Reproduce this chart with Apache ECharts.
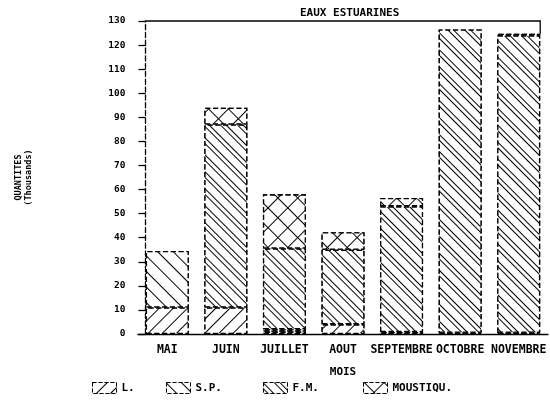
<!DOCTYPE html>
<html><head><meta charset="utf-8">
<script src="https://cdn.jsdelivr.net/npm/echarts@6/dist/echarts.min.js"></script>
<style>html,body{margin:0;padding:0;background:#fff}#c{width:550px;height:412px}</style>
</head><body><div id="c"></div>
<script>
const months = ['MAI','JUIN','JUILLET','AOUT','SEPTEMBRE','OCTOBRE','NOVEMBRE'];
const seriesNames = ['L.','S.P.','F.M.','MOUSTIQU.'];
const valL  = [11, 11, 1, 4, 0.8, 0.5, 0.5];
const valSP = [23.5, 0, 1, 0, 0, 0, 0];
const valFM = [0, 76, 33.5, 31, 52.2, 126, 123.5];
const valMO = [0, 7, 22.5, 7.3, 3.5, 0, 0.7];
const yTicks = [0,10,20,30,40,50,60,70,80,90,100,110,120,130];

const FONT = 'DejaVu Sans Mono';
const decals = [
  {symbol:'rect', symbolSize:1, dashArrayX:[[1,0]], dashArrayY:[1,9], rotation:-Math.PI/4, color:'#000', backgroundColor:'#fff'},
  {symbol:'rect', symbolSize:1, dashArrayX:[[1,0]], dashArrayY:[1,10], rotation:Math.PI/4, color:'#000', backgroundColor:'#fff'},
  {symbol:'rect', symbolSize:1, dashArrayX:[[1,0]], dashArrayY:[1,2.5,1,6.5], rotation:Math.PI/4, color:'#000', backgroundColor:'#fff'},
  {symbol:'rect', symbolSize:1, dashArrayX:[[14,0],[1,13],[1,13],[1,13],[1,13],[1,13],[1,13],[1,13],[1,13],[1,13],[1,13],[1,13],[1,13],[1,13]], dashArrayY:[1,0], rotation:Math.PI/4, color:'#000', backgroundColor:'#fff'}
];
const allVals = [valL, valSP, valFM, valMO];
const legendLefts = [87, 161, 258, 358];

const chart = echarts.init(document.getElementById('c'), null, {renderer:'canvas'});
const option = {
  animation:false,
  backgroundColor:'#fff',
  title:{text:'EAUX ESTUARINES', left:295, top:3, textStyle:{fontFamily:FONT, fontWeight:'bold', fontSize:11, color:'#000'}},
  legend: seriesNames.map((n,i)=>({data:[{name:n, icon:'rect'}], left:legendLefts[i], top:377, itemWidth:24, itemHeight:11, itemGap:0,
    itemStyle:{color:'#fff', borderColor:'#000', borderWidth:1, borderType:'dashed', decal:decals[i]},
    textStyle:{fontFamily:FONT, fontWeight:'bold', fontSize:11, color:'#000'}})),
  grid:{left:138, right:2, top:21, bottom:78},
  xAxis:{type:'category', data:months, name:'MOIS', nameLocation:'middle', nameGap:33,
    nameTextStyle:{fontFamily:FONT, fontWeight:'bold', fontSize:11, color:'#000'},
    axisLine:{lineStyle:{color:'#000', width:1.3}},
    axisTick:{alignWithLabel:true, length:3, lineStyle:{color:'#000'}},
    axisLabel:{fontFamily:FONT, fontWeight:'bold', fontSize:11.5, color:'#000', margin:10, interval:0}},
  yAxis:{type:'value', min:0, max:130, interval:10, offset:-7.5,
    name:'QUANTITES\n(Thousands)', nameLocation:'middle', nameRotate:90, nameGap:112,
    nameTextStyle:{fontFamily:FONT, fontWeight:'bold', fontSize:8.5, color:'#000', lineHeight:10},
    axisLine:{show:true, lineStyle:{color:'#000', type:'dashed', width:1.3}},
    axisTick:{show:true, length:7, lineStyle:{color:'#000', width:1.3}},
    splitLine:{show:false},
    axisLabel:{fontFamily:FONT, fontWeight:'bold', fontSize:9.5, color:'#000', margin:20,
      formatter:v=> yTicks.includes(v) ? String(v) : ''}},
  series: seriesNames.map((n,i)=>({
    name:n, type:'bar', stack:'t', barWidth:43,
    data: allVals[i].map(v=> v>0 ? v : null),
    itemStyle:{color:'#fff', borderColor:'#000', borderWidth:1.3, borderType:'dashed', decal:decals[i]}
  })),
  aria:{enabled:false}
};
chart.setOption(option);
const yTop = chart.convertToPixel({yAxisIndex:0}, 130);
const lastIdx = months.length-1;
const xr = chart.convertToPixel({xAxisIndex:0}, months[lastIdx]) + 21.5;
const totNov = valL[lastIdx]+valSP[lastIdx]+valFM[lastIdx]+valMO[lastIdx];
const yNov = chart.convertToPixel({yAxisIndex:0}, totNov);
chart.setOption({graphic:[{type:'polyline', shape:{points:[[145.5,yTop],[xr,yTop],[xr,yNov]]}, style:{stroke:'#000', lineWidth:1.3, fill:null}, z:10}]});
</script></body></html>
